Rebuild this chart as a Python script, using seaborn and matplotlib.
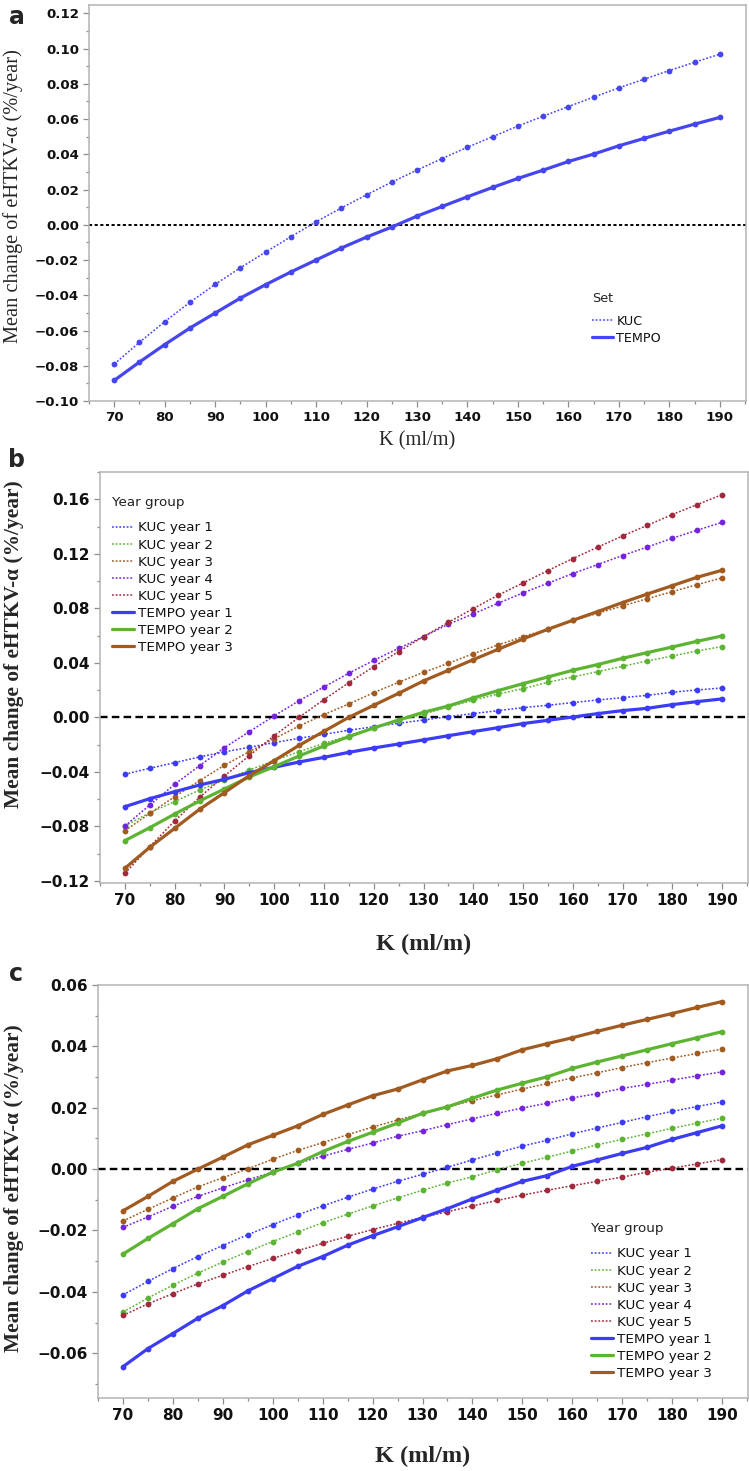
import pandas as pd
import matplotlib
matplotlib.use("Agg")
import matplotlib.pyplot as plt
from matplotlib.lines import Line2D
from matplotlib.ticker import MultipleLocator, FuncFormatter
import seaborn as sns

# K values (ml/m)
k_values = [70, 75, 80, 85, 90, 95, 100, 105, 110, 115, 120, 125, 130,
            135, 140, 145, 150, 155, 160, 165, 170, 175, 180, 185, 190]

# panel a: set
a_kuc = [-0.0790, -0.0667, -0.0550, -0.0440, -0.0338, -0.0244, -0.0155, -0.0068,
         0.0017, 0.0095, 0.0170, 0.0242, 0.0310, 0.0376, 0.0440, 0.0500, 0.0560,
         0.0616, 0.0671, 0.0724, 0.0777, 0.0826, 0.0875, 0.0922, 0.0968]
a_tempo = [-0.0883, -0.0779, -0.0680, -0.0586, -0.0501, -0.0416, -0.0340, -0.0268,
           -0.0200, -0.0132, -0.0070, -0.0013, 0.0049, 0.0104, 0.0159, 0.0212,
           0.0263, 0.0310, 0.0359, 0.0401, 0.0448, 0.0490, 0.0531, 0.0571, 0.0609]

# panel b: year group
b_kuc1 = [-0.0418, -0.0374, -0.0333, -0.0291, -0.0254, -0.0220, -0.0186, -0.0154,
          -0.0125, -0.0095, -0.0069, -0.0044, -0.0020, 0.0005, 0.0027, 0.0049,
          0.0071, 0.0088, 0.0108, 0.0127, 0.0144, 0.0161, 0.0184, 0.0201, 0.0215]
b_kuc2 = [-0.0798, -0.0700, -0.0619, -0.0533, -0.0460, -0.0387, -0.0318, -0.0252,
          -0.0191, -0.0135, -0.0078, -0.0024, 0.0024, 0.0076, 0.0125, 0.0171,
          0.0210, 0.0257, 0.0296, 0.0335, 0.0374, 0.0414, 0.0450, 0.0487, 0.0519]
b_kuc3 = [-0.0832, -0.0705, -0.0582, -0.0465, -0.0352, -0.0252, -0.0157, -0.0064,
          0.0020, 0.0098, 0.0181, 0.0257, 0.0330, 0.0396, 0.0467, 0.0531, 0.0592,
          0.0646, 0.0712, 0.0763, 0.0817, 0.0871, 0.0922, 0.0974, 0.1023]
b_kuc4 = [-0.0798, -0.0644, -0.0492, -0.0355, -0.0223, -0.0105, 0.0010, 0.0122,
          0.0223, 0.0323, 0.0418, 0.0506, 0.0592, 0.0683, 0.0759, 0.0837, 0.0913,
          0.0984, 0.1055, 0.1121, 0.1187, 0.1250, 0.1314, 0.1373, 0.1431]
b_kuc5 = [-0.1145, -0.0949, -0.0761, -0.0587, -0.0431, -0.0281, -0.0135, 0.0000,
          0.0130, 0.0254, 0.0372, 0.0482, 0.0592, 0.0697, 0.0798, 0.0896, 0.0986,
          0.1077, 0.1165, 0.1248, 0.1331, 0.1409, 0.1488, 0.1561, 0.1634]
b_tempo1 = [-0.0656, -0.0597, -0.0546, -0.0497, -0.0455, -0.0406, -0.0367, -0.0328,
            -0.0294, -0.0257, -0.0225, -0.0196, -0.0166, -0.0135, -0.0105, -0.0076,
            -0.0046, -0.0022, 0.0002, 0.0027, 0.0049, 0.0066, 0.0093, 0.0115, 0.0135]
b_tempo2 = [-0.0905, -0.0810, -0.0710, -0.0614, -0.0526, -0.0438, -0.0362, -0.0284,
            -0.0210, -0.0142, -0.0078, -0.0020, 0.0037, 0.0083, 0.0142, 0.0196,
            0.0247, 0.0296, 0.0345, 0.0387, 0.0433, 0.0475, 0.0516, 0.0558, 0.0597]
b_tempo3 = [-0.1108, -0.0954, -0.0815, -0.0675, -0.0553, -0.0428, -0.0318, -0.0206,
            -0.0103, 0.0000, 0.0088, 0.0176, 0.0267, 0.0345, 0.0423, 0.0499, 0.0575,
            0.0646, 0.0712, 0.0776, 0.0842, 0.0905, 0.0966, 0.1028, 0.1079]

# panel c: year group
c_kuc1 = [-0.0410, -0.0366, -0.0324, -0.0285, -0.0249, -0.0214, -0.0181, -0.0149,
          -0.0120, -0.0092, -0.0065, -0.0040, -0.0017, 0.0006, 0.0030, 0.0053,
          0.0075, 0.0094, 0.0115, 0.0134, 0.0152, 0.0171, 0.0188, 0.0204, 0.0219]
c_kuc2 = [-0.0466, -0.0420, -0.0378, -0.0339, -0.0303, -0.0269, -0.0236, -0.0205,
          -0.0175, -0.0147, -0.0120, -0.0094, -0.0069, -0.0045, -0.0025, -0.0002,
          0.0019, 0.0039, 0.0059, 0.0079, 0.0097, 0.0115, 0.0133, 0.0150, 0.0166]
c_kuc3 = [-0.0169, -0.0131, -0.0094, -0.0058, -0.0028, 0.0001, 0.0032, 0.0061,
          0.0086, 0.0112, 0.0137, 0.0160, 0.0182, 0.0203, 0.0223, 0.0242, 0.0261,
          0.0279, 0.0297, 0.0314, 0.0331, 0.0347, 0.0362, 0.0377, 0.0391]
c_kuc4 = [-0.0190, -0.0156, -0.0121, -0.0089, -0.0061, -0.0035, -0.0010, 0.0019,
          0.0042, 0.0064, 0.0085, 0.0107, 0.0125, 0.0145, 0.0164, 0.0182, 0.0199,
          0.0215, 0.0232, 0.0246, 0.0263, 0.0276, 0.0290, 0.0304, 0.0317]
c_kuc5 = [-0.0477, -0.0439, -0.0406, -0.0374, -0.0346, -0.0318, -0.0291, -0.0266,
          -0.0242, -0.0219, -0.0197, -0.0177, -0.0157, -0.0139, -0.0120, -0.0102,
          -0.0085, -0.0069, -0.0054, -0.0040, -0.0026, -0.0010, 0.0003, 0.0017, 0.0031]
c_tempo1 = [-0.0644, -0.0585, -0.0536, -0.0486, -0.0445, -0.0397, -0.0357, -0.0317,
            -0.0285, -0.0248, -0.0217, -0.0188, -0.0158, -0.0129, -0.0097, -0.0068,
            -0.0040, -0.0021, 0.0009, 0.0030, 0.0051, 0.0071, 0.0097, 0.0119, 0.0141]
c_tempo2 = [-0.0277, -0.0226, -0.0178, -0.0129, -0.0089, -0.0048, -0.0010, 0.0019,
            0.0057, 0.0090, 0.0120, 0.0150, 0.0182, 0.0203, 0.0231, 0.0258, 0.0280,
            0.0301, 0.0328, 0.0349, 0.0369, 0.0389, 0.0409, 0.0428, 0.0448]
c_tempo3 = [-0.0136, -0.0089, -0.0040, 0.0000, 0.0039, 0.0079, 0.0110, 0.0141,
            0.0178, 0.0209, 0.0239, 0.0261, 0.0291, 0.0320, 0.0338, 0.0360, 0.0389,
            0.0409, 0.0428, 0.0449, 0.0469, 0.0488, 0.0507, 0.0527, 0.0546]

group_labels = ["KUC year 1", "KUC year 2", "KUC year 3", "KUC year 4", "KUC year 5",
                "TEMPO year 1", "TEMPO year 2", "TEMPO year 3"]
set_labels = ["KUC", "TEMPO"]

BLUE = "#3c3cf4"
GREEN = "#5db433"
BROWN = "#a15a1f"
PURPLE = "#7424dc"
RED = "#a02a3c"
group_colors = [BLUE, GREEN, BROWN, PURPLE, RED, BLUE, GREEN, BROWN]

DOT = (0, (1.2, 1.2))
FRAME = "#b4b4b4"

sns.set_style("white")
plt.rcParams["font.family"] = ["DejaVu Sans"]

fig = plt.figure(figsize=(7.49, 14.71), dpi=100)
W, H = 749.0, 1471.0


def add_axes(left, top, right, bottom):
    return fig.add_axes([left / W, 1 - bottom / H, (right - left) / W, (bottom - top) / H])


def fmt(v, _):
    s = f"{v:.2f}"
    if s in ("-0.00", "0.00"):
        return "0.00"
    return s.replace("-", "\u2212")


def style_axes(ax, ylim, ymajor, yminor, tick_size):
    ax.set_xlim(65, 195.2)
    ax.set_ylim(*ylim)
    ax.xaxis.set_major_locator(MultipleLocator(10))
    ax.xaxis.set_minor_locator(MultipleLocator(5))
    ax.yaxis.set_major_locator(MultipleLocator(ymajor))
    ax.yaxis.set_minor_locator(MultipleLocator(yminor))
    ax.yaxis.set_major_formatter(FuncFormatter(fmt))
    ax.tick_params(which="both", direction="out", color="#8c8c8c", width=0.9,
                   left=True, bottom=True)
    ax.tick_params(which="major", length=4.2, pad=3)
    ax.tick_params(which="minor", length=2.4)
    for lab in ax.get_xticklabels() + ax.get_yticklabels():
        lab.set_fontweight("bold")
        lab.set_fontsize(tick_size)
        lab.set_color("#111111")
    for sp in ax.spines.values():
        sp.set_visible(True)
        sp.set_color(FRAME)
        sp.set_linewidth(1.1)
    ax.set_xlabel("")
    ax.set_ylabel("")


def draw(ax, y, color, kuc):
    df = pd.DataFrame({"K": k_values, "v": y})
    if kuc:
        sns.lineplot(data=df, x="K", y="v", ax=ax, color=color, linestyle=DOT, lw=1.1,
                     marker="o", markersize=4.2, markeredgewidth=0, legend=False, zorder=3)
    else:
        sns.lineplot(data=df, x="K", y="v", ax=ax, color=color, lw=2.3,
                     marker="o", markersize=4.2, markeredgewidth=0, legend=False, zorder=3)


def legend(ax, labels, colors, kinds, title, x, y, size, spacing, sep):
    handles = [Line2D([], [], color=c, lw=(1.1 if k else 2.3), linestyle=(DOT if k else "-"))
               for c, k in zip(colors, kinds)]
    leg = ax.legend(handles, labels, title=title, loc="upper left",
                    bbox_to_anchor=(x / W, 1 - y / H), bbox_transform=fig.transFigure,
                    frameon=False, fontsize=size, title_fontsize=size, borderpad=0,
                    borderaxespad=0, handlelength=1.65, handletextpad=0.25,
                    labelspacing=spacing, alignment="left")
    leg.get_title().set_color("#222222")
    for t in leg.get_texts():
        t.set_color("#111111")
    leg._legend_box.sep = sep


# ---------------- panel a ----------------
ax_a = add_axes(89, 5, 746, 401)
ax_a.axhline(0, color="black", lw=1.4, linestyle=(0, (1.6, 1.3)), zorder=2)
draw(ax_a, a_kuc, "#4646f0", True)
draw(ax_a, a_tempo, "#4646f0", False)
style_axes(ax_a, (-0.1, 0.1247), 0.02, 0.01, 9.6)
legend(ax_a, set_labels, ["#4646f0", "#4646f0"], [True, False], "Set", 592, 292, 9.2,
       0.3, 7)
fig.text(13 / W, 1 - 196 / H, "Mean change of eHTKV-\u03b1 (%/year)", rotation=90,
         ha="center", va="center", family="Liberation Serif", fontsize=14.7)
fig.text(417 / W, 1 - 441 / H, "K (ml/m)", ha="center", va="center",
         family="Liberation Serif", fontsize=14.7)
fig.text(9 / W, 1 - 24 / H, "a", ha="left", va="baseline", fontsize=17, fontweight="bold")

# ---------------- panel b ----------------
b_series = [b_kuc1, b_kuc2, b_kuc3, b_kuc4, b_kuc5, b_tempo1, b_tempo2, b_tempo3]
kinds = [True] * 5 + [False] * 3
ax_b = add_axes(100, 472, 748, 883)
ax_b.axhline(0, color="black", lw=1.7, linestyle=(0, (3.2, 1.8)), zorder=2)
for y, c, k in zip(b_series, group_colors, kinds):
    draw(ax_b, y, c, k)
style_axes(ax_b, (-0.1216, 0.18), 0.04, 0.02, 11)
legend(ax_b, group_labels, group_colors, kinds, "Year group", 112, 496, 9.7, 0.3, 9)
fig.text(14.5 / W, 1 - 644 / H, "Mean change of eHTKV-\u03b1 (%/year)", rotation=90,
         ha="center", va="center", family="Liberation Serif", fontsize=15.4,
         fontweight="bold")
fig.text(424 / W, 1 - 944 / H, "K (ml/m)", ha="center", va="center",
         family="Liberation Serif", fontsize=17.5, fontweight="bold")
fig.text(8 / W, 1 - 467 / H, "b", ha="left", va="baseline", fontsize=17, fontweight="bold")

# ---------------- panel c ----------------
c_series = [c_kuc1, c_kuc2, c_kuc3, c_kuc4, c_kuc5, c_tempo1, c_tempo2, c_tempo3]
ax_c = add_axes(98, 985, 748, 1398)
ax_c.axhline(0, color="black", lw=1.7, linestyle=(0, (3.2, 1.8)), zorder=2)
for y, c, k in zip(c_series, group_colors, kinds):
    draw(ax_c, y, c, k)
style_axes(ax_c, (-0.0746, 0.0600), 0.02, 0.01, 11)
legend(ax_c, group_labels, group_colors, kinds, "Year group", 591, 1222, 9.7, 0.3, 9)
fig.text(14.5 / W, 1 - 1188 / H, "Mean change of eHTKV-\u03b1 (%/year)", rotation=90,
         ha="center", va="center", family="Liberation Serif", fontsize=15.4,
         fontweight="bold")
fig.text(423 / W, 1 - 1456 / H, "K (ml/m)", ha="center", va="center",
         family="Liberation Serif", fontsize=17.5, fontweight="bold")
fig.text(9 / W, 1 - 981 / H, "c", ha="left", va="baseline", fontsize=17, fontweight="bold")

fig.savefig("out.png", dpi=100, facecolor="white")
